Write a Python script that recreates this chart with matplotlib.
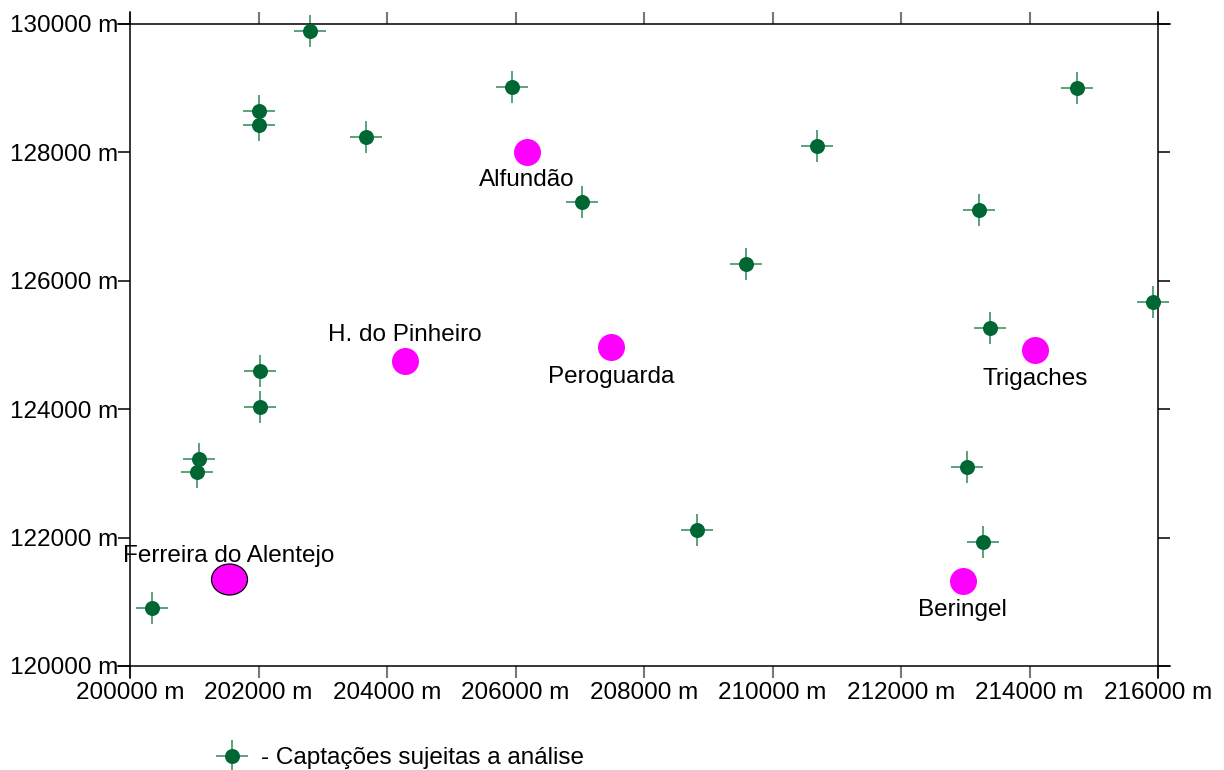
import numpy as np
import matplotlib
matplotlib.use("Agg")
import matplotlib.pyplot as plt
from matplotlib.markers import MarkerStyle
from matplotlib.transforms import Affine2D

plt.rcParams['font.family'] = ['Liberation Sans', 'DejaVu Sans']

# wells ("captações") - easting / northing in metres
well_x = [202800, 202000, 202000, 203670, 205950, 207035, 210700, 209580,
          214740, 213220, 215920, 213380, 202020, 202020, 201075, 201045,
          213020, 208830, 213270, 200340]
well_y = [129890, 128640, 128430, 128240, 129020, 127230, 128100, 126260,
          129000, 127110, 125670, 125270, 124600, 124035, 123220, 123025,
          123100, 122120, 121930, 120900]

# villages
town_names = ['Alfundão', 'H. do Pinheiro', 'Peroguarda', 'Trigaches',
              'Beringel', 'Ferreira do Alentejo']
town_x = [206180, 204280, 207490, 214090, 212960, 201540]
town_y = [128010, 124750, 124970, 124920, 121320, 121355]
# label offset below (+) or above (-) the dot, in pixels
town_dy = [28, -26, 30, 29, 29, -23]

x_ticks = np.arange(200000, 216001, 2000)
y_ticks = np.arange(120000, 130001, 2000)

DPI = 100
PX = 72 / DPI
FS = 17.5

fig = plt.figure(figsize=(12.24, 7.70), dpi=DPI)
ax = fig.add_axes([118 / 1224, 92 / 770, 1052 / 1224, 666 / 770])

pad_x = 12 * 2000 / 128.5
pad_y = 12 * 2000 / 128.4
ax.set_xlim(x_ticks[0] - pad_x, x_ticks[-1] + pad_x)
ax.set_ylim(y_ticks[0] - pad_y, y_ticks[-1] + pad_y)

ax.spines['left'].set_position(('data', x_ticks[0]))
ax.spines['right'].set_position(('data', x_ticks[-1]))
ax.spines['bottom'].set_position(('data', y_ticks[0]))
ax.spines['top'].set_position(('data', y_ticks[-1]))
for s in ax.spines.values():
    s.set_linewidth(1.1)
    s.set_color('black')

ax.set_xticks(x_ticks)
ax.set_yticks(y_ticks)
ax.set_xticklabels([f"{v:d} m" for v in x_ticks])
ax.set_yticklabels([f"{v:d} m" for v in y_ticks])
ax.tick_params(axis='both', which='major', direction='out', length=12 * PX,
               labelsize=FS)
ax.tick_params(axis='x', top=True, bottom=True, labeltop=False, pad=3,
               color='#777777', width=1.5)
ax.tick_params(axis='y', left=True, right=True, labelright=False, pad=0,
               color='black', width=1.1)

# wells: light cross behind a dark green dot
cross, = ax.plot(well_x, well_y, ls='none', marker='+', ms=32 * PX,
                 mew=1.1, color='#2e8a57', zorder=2)
dot, = ax.plot(well_x, well_y, ls='none', marker='o', ms=15 * PX,
               color='#006633', mew=0, zorder=3)

# villages
ax.plot(town_x[:-1], town_y[:-1], ls='none', marker='o', ms=27 * PX,
        color='#ff00ff', mew=0, zorder=4)
ell = MarkerStyle('o', transform=Affine2D().scale(36 / 31, 1))
ax.plot(town_x[-1:], town_y[-1:], ls='none', marker=ell, ms=31 * PX,
        mfc='#ff00ff', mec='black', mew=0.9, zorder=4)

for name, tx, ty, dy in zip(town_names, town_x, town_y, town_dy):
    ax.annotate(name, (tx, ty), xytext=(0, -dy * PX), textcoords='offset points',
                ha='center', va='center', fontsize=FS, zorder=5)

fig.legend([(cross, dot)], ['- Captações sujeitas a análise'],
           loc='center left', bbox_to_anchor=(215 / 1224, 12 / 770),
           frameon=False, fontsize=FS, borderpad=0, borderaxespad=0,
           handlelength=1.4, handletextpad=0.5)

fig.savefig('out.png', dpi=DPI)
